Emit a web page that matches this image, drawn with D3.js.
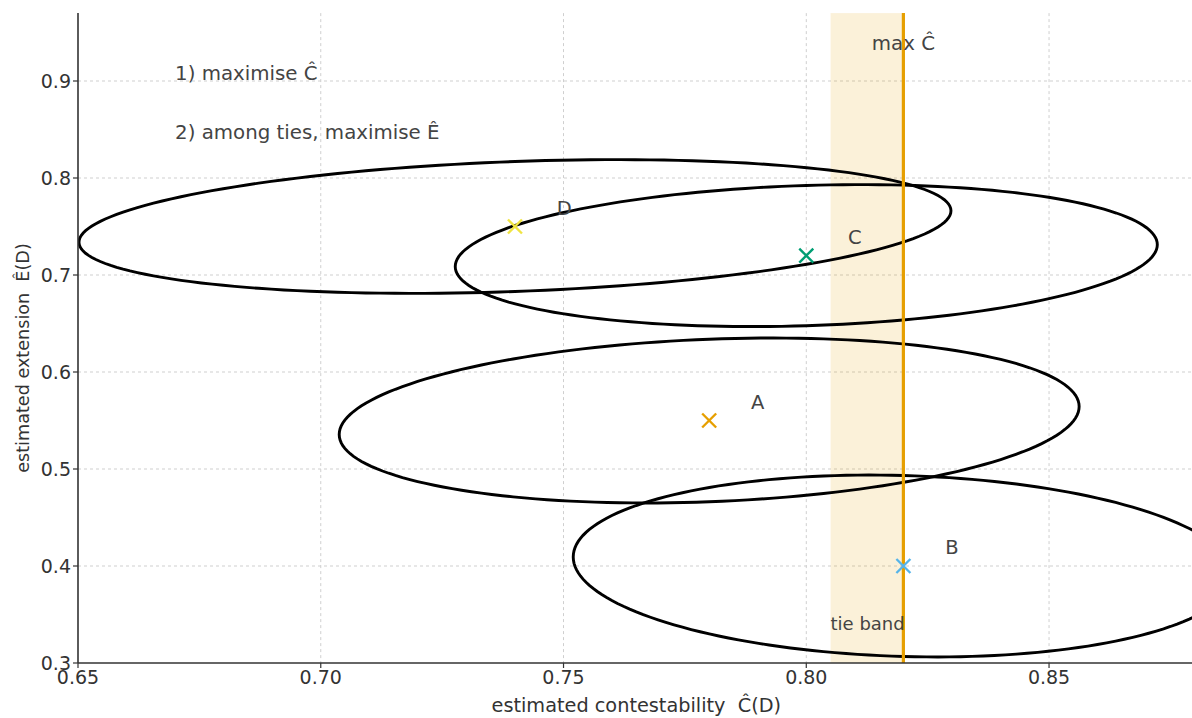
<!DOCTYPE html>
<html>
<head>
<meta charset="utf-8">
<script src="https://cdn.jsdelivr.net/npm/d3@7"></script>
<style>
  html, body { margin: 0; padding: 0; background: #fff; }
  svg { display: block; font-family: "DejaVu Sans", sans-serif; }
  text { white-space: pre; }
</style>
</head>
<body>
<svg id="chart" width="1192" height="718"></svg>
<script>
// ---- data ----
const candidates = ["A", "B", "C", "D"];
const contestability = [0.78, 0.82, 0.80, 0.74];
const extension = [0.55, 0.40, 0.72, 0.75];
const markerColors = ["#E69F00", "#56B4E9", "#009E73", "#F0E442"];
// uncertainty ellipse: x = c + hw*cos t ; y = e + tilt*cos t + hh*sin t
const ellipseHalfWidth  = [0.0762, 0.0680, 0.0723, 0.0898];
const ellipseTilt       = [0.0144, -0.0093, 0.0113, 0.0162];
const ellipseHalfHeight = [0.0838, 0.0933, 0.0723, 0.0670];

const maxC = 0.82;
const tieBand = [0.805, 0.82];

const xTicks = [0.65, 0.70, 0.75, 0.80, 0.85];
const yTicks = [0.3, 0.4, 0.5, 0.6, 0.7, 0.8, 0.9];
const xDomain = [0.65, 0.88];
const yDomain = [0.3, 0.97];

const ruleTexts = ["1) maximise Ĉ", "2) among ties, maximise Ê"];
const ruleTextY = [0.901, 0.840];
const xLabel = "estimated contestability  Ĉ(D)";
const yLabel = "estimated extension  Ê(D)";

(function () {
// ---- layout ----
const svg = d3.select("#chart");
const pL = 78, pB = 663, pT = 13.1, pR = 1194.7;

const x = d3.scaleLinear().domain(xDomain).range([pL, pR]);
const y = d3.scaleLinear().domain(yDomain).range([pB, pT]);

svg.append("defs").append("clipPath").attr("id", "plotclip")
  .append("rect").attr("x", pL).attr("y", pT)
  .attr("width", pR - pL).attr("height", pB - pT);

// grid
const grid = svg.append("g");
grid.selectAll("line.gx").data(xTicks.slice(1)).join("line")
  .attr("x1", d => x(d)).attr("x2", d => x(d))
  .attr("y1", pT).attr("y2", pB)
  .attr("stroke", "#cfcfcf").attr("stroke-width", 1).attr("stroke-dasharray", "3,3");
grid.selectAll("line.gy").data(yTicks.slice(1)).join("line")
  .attr("x1", pL).attr("x2", pR)
  .attr("y1", d => y(d)).attr("y2", d => y(d))
  .attr("stroke", "#cfcfcf").attr("stroke-width", 1).attr("stroke-dasharray", "3,3");

const plot = svg.append("g").attr("clip-path", "url(#plotclip)");

// tie band
plot.append("rect")
  .attr("x", x(tieBand[0])).attr("width", x(tieBand[1]) - x(tieBand[0]))
  .attr("y", pT).attr("height", pB - pT)
  .attr("fill", "#E69F00").attr("fill-opacity", 0.15);

// ellipses
const ts = d3.range(0, 361, 2).map(a => a * Math.PI / 180);
const line = d3.line().x(d => x(d[0])).y(d => y(d[1])).curve(d3.curveLinearClosed);
candidates.forEach((c, i) => {
  const pts = ts.map(t => [
    contestability[i] + ellipseHalfWidth[i] * Math.cos(t),
    extension[i] + ellipseTilt[i] * Math.cos(t) + ellipseHalfHeight[i] * Math.sin(t)
  ]);
  plot.append("path").attr("d", line(pts))
    .attr("fill", "none").attr("stroke", "#000").attr("stroke-width", 2.9);
});

// max C line
plot.append("line")
  .attr("x1", x(maxC)).attr("x2", x(maxC)).attr("y1", pT).attr("y2", pB)
  .attr("stroke", "#E69F00").attr("stroke-width", 3.2);

// markers
const ms = 7;
candidates.forEach((c, i) => {
  const cx = x(contestability[i]), cy = y(extension[i]);
  const g = plot.append("g").attr("stroke", markerColors[i]).attr("stroke-width", 2.4);
  g.append("line").attr("x1", cx - ms).attr("y1", cy - ms).attr("x2", cx + ms).attr("y2", cy + ms);
  g.append("line").attr("x1", cx - ms).attr("y1", cy + ms).attr("x2", cx + ms).attr("y2", cy - ms);
  svg.append("text").attr("x", x(contestability[i] + 0.0086)).attr("y", y(extension[i] + 0.012))
    .attr("font-size", 19.5).attr("fill", "#444").text(c);
});

// texts
ruleTexts.forEach((t, i) => {
  svg.append("text").attr("x", x(0.67)).attr("y", y(ruleTextY[i]))
    .attr("font-size", 19.8).attr("fill", "#444").text(t);
});
svg.append("text").attr("x", x(maxC)).attr("y", y(0.932)).attr("text-anchor", "middle")
  .attr("font-size", 19.8).attr("fill", "#444").text("max Ĉ");
svg.append("text").attr("x", x(tieBand[0])).attr("y", y(0.334))
  .attr("font-size", 18).attr("fill", "#444").text("tie band");

// axes spines
svg.append("line").attr("x1", pL).attr("x2", pL).attr("y1", pT).attr("y2", pB)
  .attr("stroke", "#333").attr("stroke-width", 1.6);
svg.append("line").attr("x1", pL).attr("x2", pR).attr("y1", pB).attr("y2", pB)
  .attr("stroke", "#333").attr("stroke-width", 1.6);

// ticks
const xa = svg.append("g");
xTicks.forEach(v => {
  xa.append("line").attr("x1", x(v)).attr("x2", x(v)).attr("y1", pB).attr("y2", pB + 5)
    .attr("stroke", "#333").attr("stroke-width", 1.2);
  xa.append("text").attr("x", x(v)).attr("y", 684).attr("text-anchor", "middle")
    .attr("font-size", 19).attr("fill", "#333").text(d3.format(".2f")(v));
});
const ya = svg.append("g");
yTicks.forEach(v => {
  ya.append("line").attr("x1", pL - 5).attr("x2", pL).attr("y1", y(v)).attr("y2", y(v))
    .attr("stroke", "#333").attr("stroke-width", 1.2);
  ya.append("text").attr("x", 71).attr("y", y(v)).attr("dy", "0.36em").attr("text-anchor", "end")
    .attr("font-size", 19).attr("fill", "#333").text(d3.format(".1f")(v));
});

// axis labels
svg.append("text").attr("x", (pL + pR) / 2).attr("y", 712).attr("text-anchor", "middle")
  .attr("font-size", 19.3).attr("fill", "#333").text(xLabel);
svg.append("text").attr("transform", "translate(29,358) rotate(-90)").attr("text-anchor", "middle")
  .attr("font-size", 17.6).attr("fill", "#333").text(yLabel);
})();
</script>
</body>
</html>
